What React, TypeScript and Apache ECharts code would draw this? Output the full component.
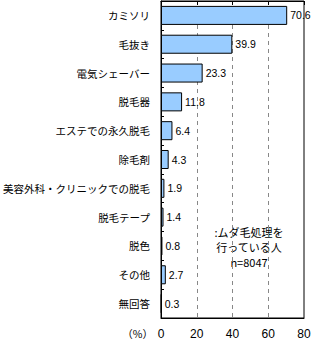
import React, { useEffect, useRef } from "react";
import * as echarts from "echarts";

const categories = [
  "カミソリ",
  "毛抜き",
  "電気シェーバー",
  "脱毛器",
  "エステでの永久脱毛",
  "除毛剤",
  "美容外科・クリニックでの脱毛",
  "脱毛テープ",
  "脱色",
  "その他",
  "無回答",
];
const values = [70.6, 39.9, 23.3, 11.8, 6.4, 4.3, 1.9, 1.4, 0.8, 2.7, 0.3];
const axisMin = 0;
const axisMax = 80;
const axisInterval = 20;
const unitLabel = "（%）";
const noteLines = [":ムダ毛処理を", "行っている人", "n=8047"];

const FONT = "'Noto Sans CJK JP', sans-serif";
const NUM_FONT = "'Liberation Sans', Arial, sans-serif";

export default function App() {
  const ref = useRef<HTMLDivElement>(null);
  useEffect(() => {
    if (!ref.current) return;
    const chart = echarts.init(ref.current, undefined, { renderer: "svg" });
    chart.setOption({
      animation: false,
      backgroundColor: "#ffffff",
      grid: {
        left: 161,
        right: 7,
        top: 1,
        bottom: 23,
        show: true,
        borderColor: "#000",
        borderWidth: 1,
        containLabel: false,
        outerBoundsMode: "none",
      },
      xAxis: [
        {
          type: "value",
          position: "bottom",
          min: axisMin,
          max: axisMax,
          interval: axisInterval,
          axisLine: { show: true, lineStyle: { color: "#000" } },
          axisTick: { show: false },
          axisLabel: {
            color: "#000",
            fontSize: 12,
            fontFamily: NUM_FONT,
            margin: 10,
          },
          splitLine: {
            show: true,
            showMinLine: false,
            showMaxLine: false,
            lineStyle: { color: "#888", type: [4, 4], width: 1 },
          },
        },
        {
          type: "value",
          position: "top",
          min: axisMin,
          max: axisMax,
          interval: axisInterval,
          axisLine: { show: true, lineStyle: { color: "#000" } },
          axisTick: { show: true, inside: true, length: 4, lineStyle: { color: "#000" } },
          axisLabel: { show: false },
          splitLine: { show: false },
        },
      ],
      yAxis: {
        type: "category",
        data: categories,
        inverse: true,
        axisLine: { show: true, lineStyle: { color: "#000" } },
        axisTick: { show: true, inside: true, length: 3, lineStyle: { color: "#000" } },
        axisLabel: {
          color: "#000",
          fontSize: 10.5,
          fontFamily: FONT,
          margin: 11,
          interval: 0,
        },
      },
      series: [
        {
          type: "bar",
          data: values,
          xAxisIndex: 0,
          barCategoryGap: "34%",
          itemStyle: { color: "#99ccff", borderColor: "#000", borderWidth: 1 },
          label: {
            show: true,
            position: "right",
            distance: 3,
            color: "#000",
            fontSize: 10.5,
            fontFamily: NUM_FONT,
          },
        },
      ],
      graphic: [
        {
          type: "text",
          x: 153,
          y: 333,
          style: {
            text: unitLabel,
            fill: "#000",
            font: `10.5px ${FONT}`,
            textAlign: "right",
            textVerticalAlign: "middle",
          },
        },
        ...noteLines.map((t, i) => ({
          type: "text",
          x: 249,
          y: 232 + i * 15,
          style: {
            text: t,
            fill: "#000",
            font: `11px ${FONT}`,
            textAlign: "center",
            textVerticalAlign: "middle",
          },
        })),
      ],
    });
    return () => chart.dispose();
  }, []);
  return (
    <div
      ref={ref}
      style={{ position: "absolute", left: 0, top: 0, width: 311, height: 341 }}
    />
  );
}
